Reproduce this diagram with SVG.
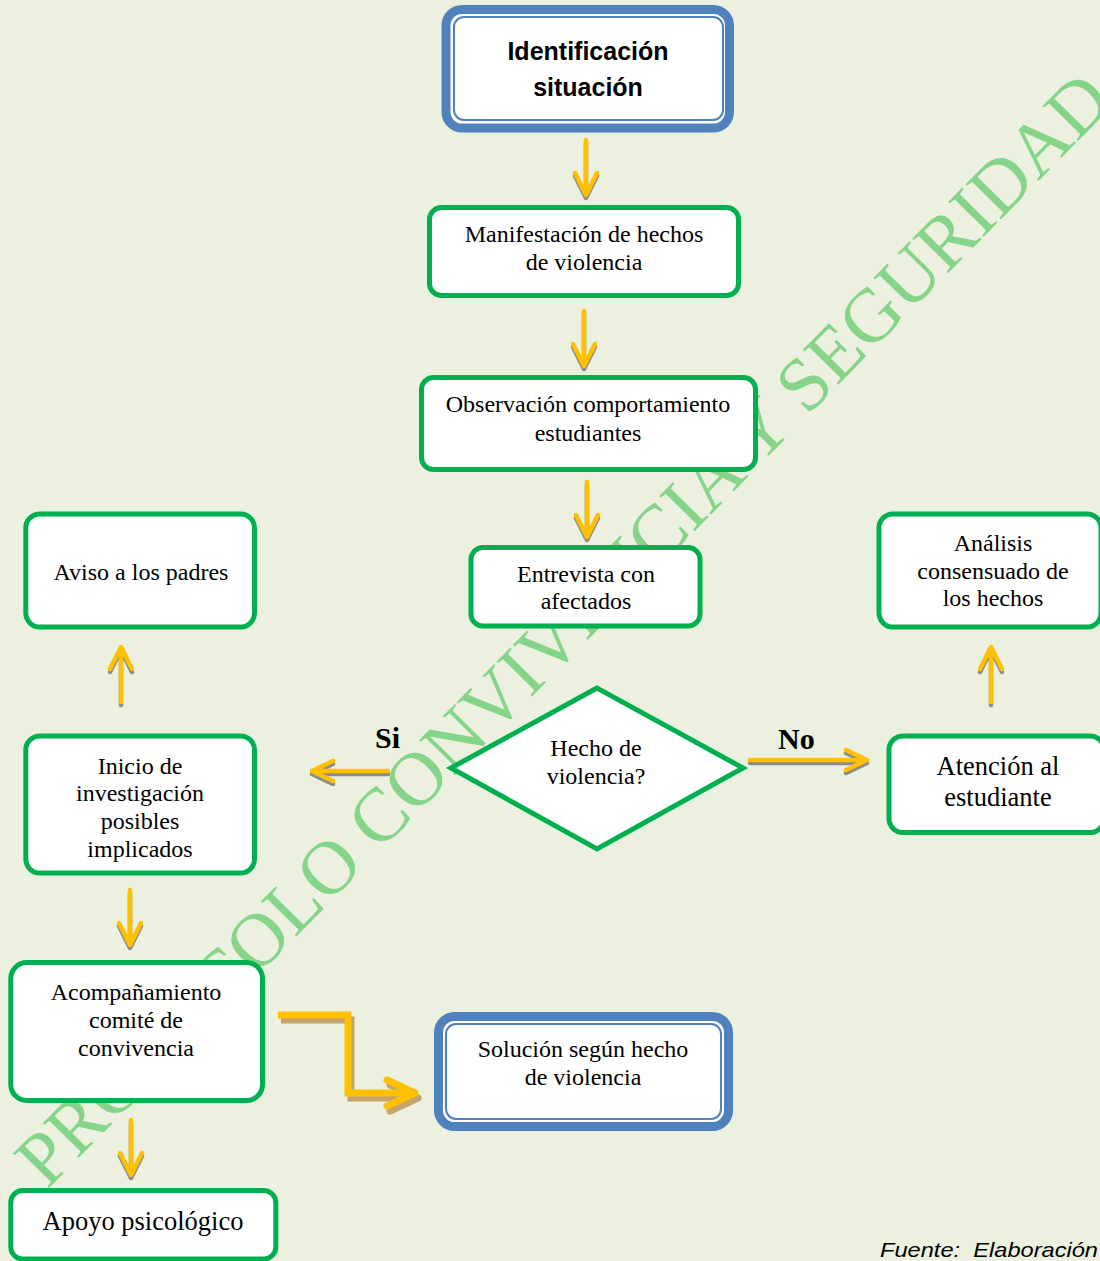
<svg xmlns="http://www.w3.org/2000/svg" width="1100" height="1261" viewBox="0 0 1100 1261">
<style>
.bg{fill:#EBF1DE}
.wm{font-family:"Liberation Serif","Times New Roman",serif;font-size:76px;fill:#86D38A}
.gbox{fill:#FFFFFF;stroke:#00B050;stroke-width:5}
.bout{fill:#FFFFFF;stroke:#4F81BD;stroke-width:9}
.bin{fill:none;stroke:#4F81BD;stroke-width:2}
.t{font-family:"Liberation Serif","Times New Roman",serif;font-size:24px;fill:#000;text-anchor:middle}
.tl{font-family:"Liberation Serif","Times New Roman",serif;font-size:26.5px;fill:#000;text-anchor:middle}
.tb{font-family:"Liberation Sans",Arial,sans-serif;font-size:25px;font-weight:bold;fill:#000;text-anchor:middle}
.lab{font-family:"Liberation Serif","Times New Roman",serif;font-size:30px;font-weight:bold;fill:#000}
.src{font-family:"Liberation Sans",Arial,sans-serif;font-size:21px;font-style:italic;fill:#000}
.ay{fill:none;stroke:#FFC000;stroke-width:4.5;stroke-linecap:round;stroke-linejoin:round}
.as{fill:none;stroke:#8C8C8C;stroke-width:4.5;stroke-linecap:round;stroke-linejoin:round}
.by{fill:none;stroke:#FFC000;stroke-width:7;stroke-linejoin:miter}
.bs{fill:none;stroke:#C6A270;stroke-width:7;stroke-linejoin:miter}
.byh{fill:none;stroke:#FFC000;stroke-width:7;stroke-linecap:round;stroke-linejoin:round}
.bsh{fill:none;stroke:#C6A270;stroke-width:7;stroke-linecap:round;stroke-linejoin:round}
</style>
<defs>
<path id="down" d="M0,-55 V0 M-11,-22 L0,0 L11,-22"/>
</defs>
<rect class="bg" x="0" y="0" width="1100" height="1261"/>
<text class="wm" x="47" y="1190" transform="rotate(-45.5 47 1190)">PROTOCOLO CONVIVENCIA Y SEGURIDAD</text>

<g id="connectors">
  <g class="as" transform="translate(0,3)">
    <use href="#down" transform="translate(586,195)"/>
    <use href="#down" transform="translate(584,366)"/>
    <use href="#down" transform="translate(587,537)"/>
    <use href="#down" transform="translate(121,647) rotate(180)"/>
    <use href="#down" transform="translate(991,647) rotate(180)"/>
    <use href="#down" transform="translate(130,945)"/>
    <use href="#down" transform="translate(131,1175)"/>
    <path d="M388,771 H312 M333,761 L312,771 L333,781"/>
    <path d="M750,760 H867 M846,750 L867,760 L846,770"/>
  </g>
  <g class="ay">
    <use href="#down" transform="translate(586,195)"/>
    <use href="#down" transform="translate(584,366)"/>
    <use href="#down" transform="translate(587,537)"/>
    <use href="#down" transform="translate(121,647) rotate(180)"/>
    <use href="#down" transform="translate(991,647) rotate(180)"/>
    <use href="#down" transform="translate(130,945)"/>
    <use href="#down" transform="translate(131,1175)"/>
    <path d="M388,771 H312 M333,761 L312,771 L333,781"/>
    <path d="M750,760 H867 M846,750 L867,760 L846,770"/>
  </g>
  <path class="bs" transform="translate(3,5)" d="M278,1015 H348 V1093 H410"/>
  <path class="bsh" transform="translate(3,5)" d="M387,1080 L415,1093 L387,1106"/>
  <path class="by" d="M278,1015 H348 V1093 H410"/>
  <path class="byh" d="M387,1080 L415,1093 L387,1106"/>
</g>

<g id="n-identificacion">
  <rect class="bout" x="446" y="9.5" width="283.5" height="118.5" rx="16"/>
  <rect class="bin" x="454" y="17" width="269" height="103" rx="10"/>
  <text class="tb" x="588" y="60">Identificación</text>
  <text class="tb" x="588" y="96">situación</text>
</g>
<g id="n-manifestacion">
  <rect class="gbox" x="429.5" y="207.5" width="309" height="88" rx="12"/>
  <text class="t" x="584" y="242">Manifestación de hechos</text>
  <text class="t" x="584" y="270">de violencia</text>
</g>
<g id="n-observacion">
  <rect class="gbox" x="421.5" y="377.5" width="334" height="92" rx="12"/>
  <text class="t" x="588" y="412">Observación comportamiento</text>
  <text class="t" x="588" y="441">estudiantes</text>
</g>
<g id="n-entrevista">
  <rect class="gbox" x="471" y="547.5" width="229" height="78.5" rx="12"/>
  <text class="t" x="586" y="582">Entrevista con</text>
  <text class="t" x="586" y="609">afectados</text>
</g>
<g id="n-aviso">
  <rect class="gbox" x="25.8" y="514" width="228.7" height="113" rx="14"/>
  <text class="t" x="141" y="580">Aviso a los padres</text>
</g>
<g id="n-analisis">
  <rect class="gbox" x="879" y="514" width="222" height="113" rx="14"/>
  <text class="t" x="993" y="551">Análisis</text>
  <text class="t" x="993" y="579">consensuado de</text>
  <text class="t" x="993" y="606">los hechos</text>
</g>
<g id="n-decision">
  <polygon points="597,688 451,768 597,849 743,768" fill="#FFFFFF" stroke="#00B050" stroke-width="5"/>
  <text class="t" x="596" y="756">Hecho de</text>
  <text class="t" x="596" y="784">violencia?</text>
</g>
<text class="lab" x="375" y="748">Si</text>
<text class="lab" x="778" y="749">No</text>
<g id="n-inicio">
  <rect class="gbox" x="25.8" y="736" width="228.7" height="137" rx="14"/>
  <text class="t" x="140" y="774">Inicio de</text>
  <text class="t" x="140" y="801">investigación</text>
  <text class="t" x="140" y="829">posibles</text>
  <text class="t" x="140" y="857">implicados</text>
</g>
<g id="n-atencion">
  <rect class="gbox" x="889" y="736" width="215" height="96.5" rx="14"/>
  <text class="tl" x="998" y="775">Atención al</text>
  <text class="tl" x="998" y="806">estudiante</text>
</g>
<g id="n-acompanamiento">
  <rect class="gbox" x="10.8" y="962.5" width="251.7" height="138" rx="16"/>
  <text class="t" x="136" y="1000">Acompañamiento</text>
  <text class="t" x="136" y="1028">comité de</text>
  <text class="t" x="136" y="1056">convivencia</text>
</g>
<g id="n-solucion">
  <rect class="bout" x="438.5" y="1016.5" width="290" height="110" rx="16"/>
  <rect class="bin" x="446" y="1024" width="275" height="95" rx="10"/>
  <text class="t" x="583" y="1057">Solución según hecho</text>
  <text class="t" x="583" y="1085">de violencia</text>
</g>
<g id="n-apoyo">
  <rect class="gbox" x="10.8" y="1190.5" width="265" height="68.5" rx="12"/>
  <text class="tl" x="143" y="1230">Apoyo psicológico</text>
</g>
<text class="src" x="880" y="1257" textLength="218" lengthAdjust="spacingAndGlyphs" xml:space="preserve">Fuente:  Elaboración</text>
</svg>
